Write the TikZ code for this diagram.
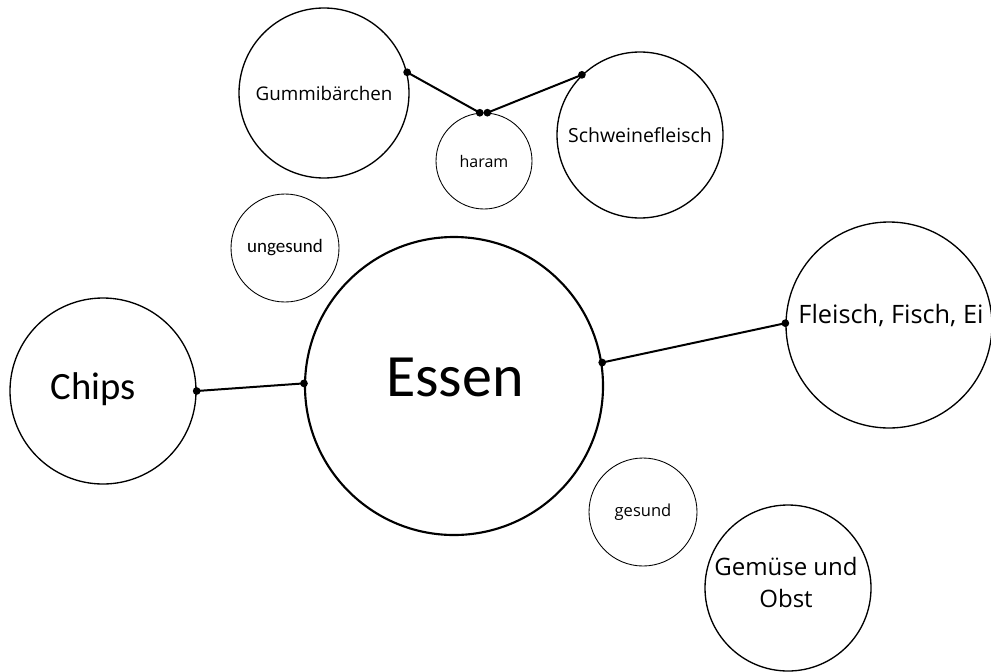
\documentclass[tikz,border=0pt]{standalone}
\usepackage{fontspec}
\setmainfont{Open Sans}
\newfontfamily\calib{Carlito}
\begin{document}
\begin{tikzpicture}[x=0.75pt,y=-0.75pt,
  bub/.style={circle, draw, inner sep=0pt, align=center},
  thick1/.style={line width=1pt},
  thin1/.style={line width=0.65pt},
  conn/.style={line width=1.5pt},
  dot/.style={fill=black}]
\useasboundingbox (0,0) rectangle (991,671);
% circles
\node[bub, line width=1.6pt, minimum size=223.5pt] (essen) at (454,386) {};
\node[font=\calib\fontsize{45}{52}\selectfont] (essenT) at (455,377) {Essen};
\node[bub, thick1, minimum size=139.5pt] (chips) at (103,391) {};
\node[font=\calib\fontsize{29}{34}\selectfont] (chipsT) at (93,389) {Chips};
\node[bub, thin1, minimum size=81pt, font=\calib\fontsize{14.25}{17}\selectfont] (unges) at (285,248) {ungesund};
\node[bub, thick1, minimum size=127.5pt, font=\fontsize{14.1}{17}\selectfont] (gummi) at (324,93) {Gummibärchen};
\node[bub, thin1, minimum size=72pt, font=\fontsize{12}{14}\selectfont] (haram) at (484,161) {haram};
\node[bub, thick1, minimum size=124.5pt, font=\fontsize{14.6}{17}\selectfont] (schwein) at (640,135) {Schweinefleisch};
\node[bub, thick1, minimum size=154.5pt] (fleisch) at (889,325) {};
\node[font=\fontsize{19}{22}\selectfont] (fleischT) at (891,316) {Fleisch, Fisch, Ei};
\node[bub, thin1, minimum size=81pt, font=\fontsize{12.4}{15}\selectfont] (gesund) at (643,512) {gesund};
\node[bub, thick1, minimum size=124.5pt] (gemuese) at (788,588) {};
\node[font=\fontsize{18}{24}\selectfont, align=center] (gemueseT) at (786,582) {Gemüse und\\Obst};
% connectors
\draw[conn] (chips.0) -- (essen.179);
\fill[dot] (chips.0) circle (2.9pt);
\fill[dot] (essen.179) circle (2.9pt);
\draw[conn] (essen.9) -- (fleisch.179.5);
\fill[dot] (essen.9) circle (2.9pt);
\fill[dot] (fleisch.179.5) circle (2.9pt);
\draw[conn] (gummi.14) -- (haram.95);
\fill[dot] (gummi.14) circle (2.9pt);
\fill[dot] (haram.95) circle (2.9pt);
\draw[conn] (haram.86) -- (schwein.134);
\fill[dot] (haram.86) circle (2.9pt);
\fill[dot] (schwein.134) circle (2.9pt);
\end{tikzpicture}
\end{document}
